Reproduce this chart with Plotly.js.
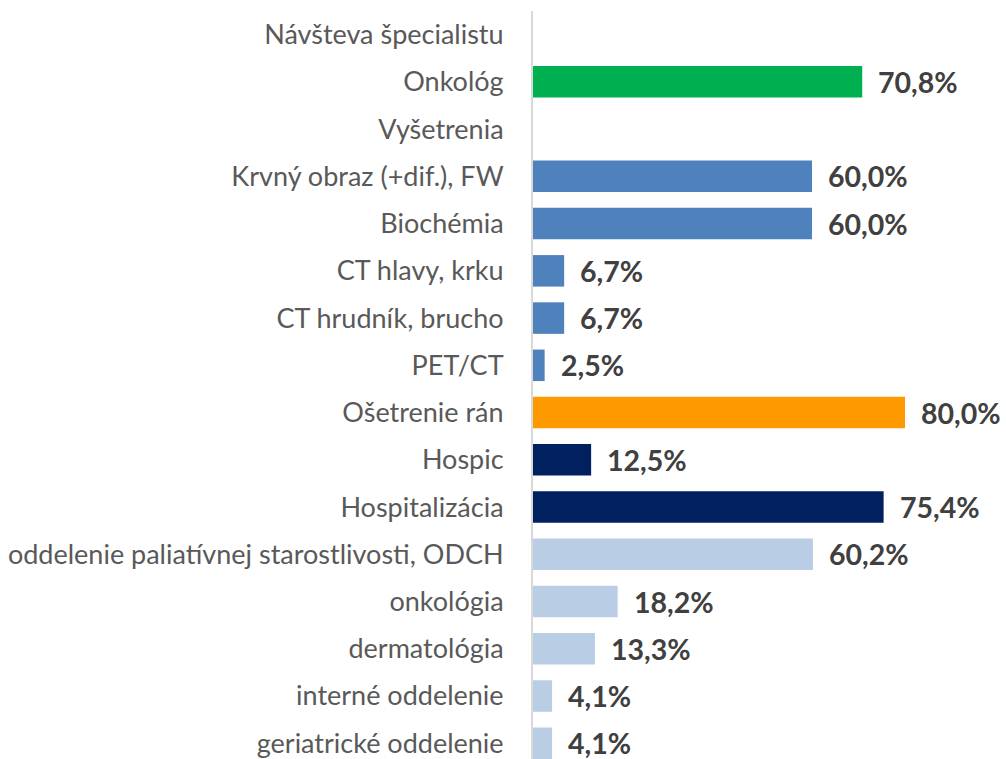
<!DOCTYPE html>
<html>
<head>
<meta charset="utf-8">
<script src="https://cdn.plot.ly/plotly-3.0.1.min.js"></script>
<style>html,body{margin:0;padding:0;background:#fff;}#chart{width:1006px;height:759px;}</style>
</head>
<body>
<div id="chart"></div>
<script>
const categories = [
  'Návšteva špecialistu',
  'Onkológ',
  'Vyšetrenia',
  'Krvný obraz (+dif.), FW',
  'Biochémia',
  'CT hlavy, krku',
  'CT hrudník, brucho',
  'PET/CT',
  'Ošetrenie rán',
  'Hospic',
  'Hospitalizácia',
  'oddelenie paliatívnej starostlivosti, ODCH',
  'onkológia',
  'dermatológia',
  'interné oddelenie',
  'geriatrické oddelenie'
];
const values = [null, 70.8, null, 60.0, 60.0, 6.7, 6.7, 2.5, 80.0, 12.5, 75.4, 60.2, 18.2, 13.3, 4.1, 4.1];
const colors = ['#00B050', '#00B050', '#4F81BD', '#4F81BD', '#4F81BD', '#4F81BD', '#4F81BD', '#4F81BD',
  '#FF9900', '#002060', '#002060', '#B9CDE5', '#B9CDE5', '#B9CDE5', '#B9CDE5', '#B9CDE5'];

const fmt = v => v.toFixed(1).replace('.', ',') + '%';

const annotations = [];
categories.forEach((c, i) => {
  if (values[i] !== null) {
    annotations.push({
      x: values[i], y: c, xref: 'x', yref: 'y',
      text: fmt(values[i]), showarrow: false,
      xanchor: 'left', yanchor: 'middle', xshift: 14,
      font: {family: 'Lato, "Open Sans", sans-serif', size: 28.5, color: '#404040', weight: 'bold'}
    });
  }
});

const trace = {
  type: 'bar',
  orientation: 'h',
  y: categories,
  x: values,
  width: 0.667,
  marker: {color: colors},
  hoverinfo: 'skip'
};

const layout = {
  width: 1006, height: 759,
  margin: {l: 533, r: 8, t: 11, b: 0},
  paper_bgcolor: '#fff', plot_bgcolor: '#fff',
  showlegend: false,
  xaxis: {range: [0, 100], visible: false, showgrid: false, zeroline: false, fixedrange: true},
  yaxis: {
    type: 'category',
    range: [15.333, -0.5],
    showgrid: false, zeroline: false,
    showline: true, linecolor: '#D9D9D9', linewidth: 2,
    ticks: 'outside', ticklen: 22, tickcolor: 'rgba(0,0,0,0)',
    tickfont: {family: 'Lato, "Open Sans", sans-serif', size: 27, color: '#595959'},
    automargin: false
  },
  annotations: annotations
};

Plotly.newPlot('chart', [trace], layout, {displayModeBar: false, staticPlot: true});
</script>
</body>
</html>
